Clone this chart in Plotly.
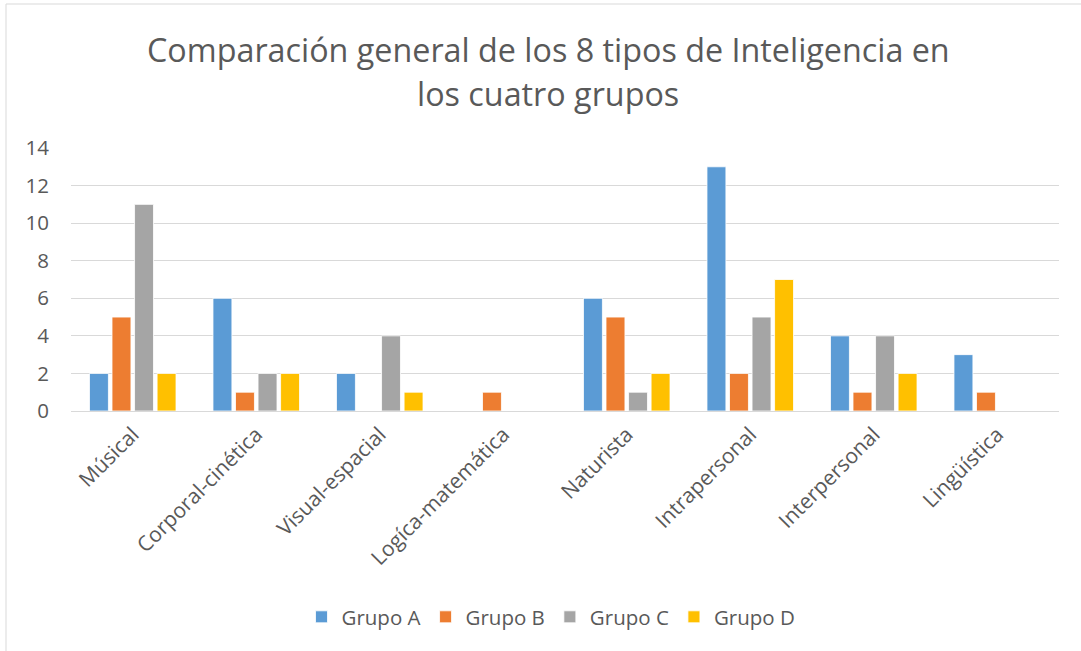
import plotly.graph_objects as go

categories = ["Músical", "Corporal-cinética", "Visual-espacial", "Logíca-matemática",
              "Naturista", "Intrapersonal", "Interpersonal", "Lingüística"]
grupo_a = [2, 6, 2, 0, 6, 13, 4, 3]
grupo_b = [5, 1, 0, 1, 5, 2, 1, 1]
grupo_c = [11, 2, 4, 0, 1, 5, 4, 0]
grupo_d = [2, 2, 1, 0, 2, 7, 2, 0]
series_names = ["Grupo A", "Grupo B", "Grupo C", "Grupo D"]
colors = ["#5B9BD5", "#ED7D31", "#A5A5A5", "#FFC000"]
y_ticks = [0, 2, 4, 6, 8, 10, 12, 14]
title_lines = ["Comparación general de los 8 tipos de Inteligencia en", "los cuatro grupos"]

FONT = "Open Sans"
TXT = "#595959"
FS = 20.5

W, H = 1081, 651
L, R, T, B = 71, 22, 148, 240
pw = W - L - R
ph = H - T - B

def py(p):
    return (H - B - p) / ph

def px(p):
    return (p - L) / pw

fig = go.Figure()
for name, vals, col in zip(series_names, [grupo_a, grupo_b, grupo_c, grupo_d], colors):
    fig.add_trace(go.Bar(x=categories, y=vals, name=name,
                         marker=dict(color=col, line=dict(color="white", width=0.8))))

fig.update_layout(
    width=W, height=H,
    margin=dict(l=L, r=R, t=T, b=B, autoexpand=False),
    paper_bgcolor="white", plot_bgcolor="white",
    barmode="group", bargap=0.27, bargroupgap=0.16,
    font=dict(family=FONT, color=TXT, size=FS),
    showlegend=True,
    legend=dict(orientation="h", x=px(551), xanchor="center",
                y=py(617), yanchor="middle",
                font=dict(size=FS, color=TXT),
                itemwidth=30, traceorder="normal"),
    xaxis=dict(tickangle=-45, showgrid=False, showline=False, ticks="",
               tickfont=dict(size=21, color=TXT), automargin=False,
               ticklabelstandoff=6),
    yaxis=dict(range=[0, 14], tickvals=y_ticks, showgrid=True, gridcolor="#D9D9D9",
               gridwidth=1, zeroline=True, zerolinecolor="#D9D9D9", zerolinewidth=1,
               showline=False, ticks="", tickfont=dict(size=FS, color=TXT),
               ticklabelstandoff=21, automargin=False),
)

for line, yc in zip(title_lines, [49, 93]):
    fig.add_annotation(text=line, xref="paper", yref="paper",
                       x=px(548), y=py(yc),
                       xanchor="center", yanchor="middle", showarrow=False,
                       font=dict(size=32.3, color=TXT, family=FONT))

# chart border (top and left edges visible)
fig.add_shape(type="rect", xref="paper", yref="paper",
              x0=px(6), x1=px(1090), y0=py(660), y1=py(4),
              line=dict(color="#D9D9D9", width=1), fillcolor="rgba(0,0,0,0)", layer="below")

fig.write_html("out.html", config={"displayModeBar": False},
               post_script="document.body.style.margin='0';document.body.style.overflow='hidden';")
